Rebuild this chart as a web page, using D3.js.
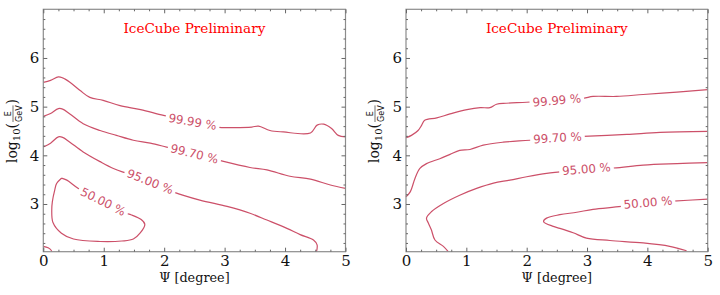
<!DOCTYPE html>
<html><head><meta charset="utf-8">
<script src="https://cdn.jsdelivr.net/npm/d3@7"></script>
<style>body{margin:0;background:#fff} svg{display:block}</style>
</head><body>
<svg id="c" width="720" height="295"></svg>
<script>
// ---------- data ----------
const xTicks = [0, 1, 2, 3, 4, 5];
const yTicks = [3, 4, 5, 6];
const xDomain = [0, 5];
const yDomain = [2.02, 7];
const levelLabels = ["50.00 %", "95.00 %", "99.70 %", "99.99 %"];
const watermark = "IceCube Preliminary";
const xLabel = "Ψ [degree]";

// left panel contours [psi, log10(E/GeV)]
const left50 = [[0.30,3.53],[0.22,3.42],[0.19,3.29],[0.15,3.05],[0.14,2.88],[0.16,2.62],[0.30,2.40],[0.50,2.28],[0.94,2.23],[1.30,2.24],[1.49,2.28],[1.60,2.40],[1.68,2.58],[1.62,2.68],[1.45,2.78],[1.38,2.81],[0.99,3.05],[0.58,3.32],[0.39,3.49],[0.30,3.53]];
const left95 = [[0,4.17],[0.12,4.25],[0.25,4.38],[0.32,4.37],[0.44,4.27],[0.66,4.07],[0.94,3.87],[1.16,3.73],[1.38,3.63],[1.77,3.46],[2.15,3.25],[2.59,3.08],[3.04,2.95],[3.42,2.81],[3.70,2.67],[4.03,2.50],[4.25,2.37],[4.47,2.26],[4.53,2.16],[4.52,2.02]];
const left9970 = [[0,4.80],[0.12,4.86],[0.25,4.96],[0.32,4.95],[0.44,4.85],[0.66,4.65],[0.94,4.51],[1.21,4.41],[1.49,4.31],[1.77,4.25],[2.04,4.17],[2.50,4.03],[2.90,3.90],[3.42,3.75],[3.70,3.70],[4.08,3.57],[4.42,3.51],[4.75,3.39],[5,3.32]];
const left9999 = [[0,5.50],[0.12,5.54],[0.25,5.61],[0.32,5.59],[0.44,5.50],[0.61,5.33],[0.77,5.19],[0.99,5.13],[1.27,5.02],[1.61,4.94],[1.99,4.82],[2.47,4.69],[2.87,4.58],[3.15,4.57],[3.45,4.58],[3.56,4.60],[3.75,4.51],[3.97,4.48],[4.42,4.46],[4.53,4.62],[4.64,4.64],[4.77,4.55],[4.88,4.41],[5,4.38]];
const leftCorner = [[0,2.13],[0.08,2.10],[0.13,2.05],[0.14,2.02]];
const leftLabelAt = [[0.99,3.05],[1.77,3.46],[2.50,4.03],[2.47,4.69]];

// right panel contours
const right50 = [[4.65,2.04],[4.37,2.13],[3.93,2.20],[3.38,2.25],[2.99,2.30],[2.77,2.41],[2.55,2.50],[2.44,2.54],[2.28,2.64],[2.33,2.71],[2.55,2.78],[2.83,2.83],[3.10,2.89],[3.57,2.95],[4.01,3.03],[4.43,3.06],[5,3.10]];
const right95 = [[0.70,2.02],[0.62,2.13],[0.48,2.26],[0.42,2.47],[0.37,2.61],[0.34,2.71],[0.42,2.84],[0.62,3.01],[0.89,3.18],[1.17,3.32],[1.45,3.43],[1.72,3.49],[2.00,3.56],[2.33,3.63],[2.55,3.66],[2.99,3.72],[3.44,3.74],[3.93,3.80],[4.49,3.83],[5,3.85]];
const right9970 = [[0,3.15],[0.07,3.25],[0.15,3.53],[0.23,3.73],[0.34,3.83],[0.56,3.93],[0.73,4.02],[0.89,4.10],[1.06,4.12],[1.28,4.21],[1.61,4.27],[2.05,4.31],[2.51,4.36],[2.94,4.39],[3.66,4.43],[4.21,4.47],[5,4.49]];
const right9999 = [[0,4.36],[0.09,4.41],[0.20,4.51],[0.26,4.62],[0.31,4.72],[0.51,4.77],[0.73,4.85],[1.01,4.94],[1.23,4.98],[1.39,4.98],[1.50,5.05],[1.66,5.07],[2.00,5.09],[2.50,5.13],[2.94,5.17],[3.10,5.21],[3.49,5.21],[3.93,5.25],[4.49,5.30],[5,5.35]];
const rightLabelAt = [[4.01,3.03],[2.99,3.72],[2.51,4.36],[2.50,5.13]];

// ---------- drawing ----------
const svg = d3.select("#c");
const lineColor = "#cc5069";
const serif = "'DejaVu Serif', serif";
const sans = "'DejaVu Sans', sans-serif";

const panels = [
  {x0: 43.3, x1: 345.5, contours: [left50, left95, left9970, left9999], extra: [leftCorner], labels: leftLabelAt, ylabX: 17},
  {x0: 406, x1: 707.7, contours: [right50, right95, right9970, right9999], extra: [], labels: rightLabelAt, ylabX: 379}
];
const yTop = 9.3, yBot = 251.7;

panels.forEach(p => {
  const x = d3.scaleLinear().domain(xDomain).range([p.x0, p.x1]);
  const y = d3.scaleLinear().domain(yDomain).range([yBot, yTop]);
  const g = svg.append("g");
  const line = d3.line().x(d => x(d[0])).y(d => y(d[1])).curve(d3.curveCatmullRom.alpha(0.5));

  const cg = g.append("g");
  p.contours.concat(p.extra).forEach(c => {
    cg.append("path").attr("d", line(c)).attr("fill", "none")
      .attr("stroke", lineColor).attr("stroke-width", 1.2);
  });

  // contour labels
  p.contours.forEach((c, i) => {
    const [lx, ly] = p.labels[i];
    const px = x(lx), py = y(ly);
    let best = 0, bd = Infinity;
    for (let k = 0; k < c.length - 1; k++) {
      const ax = x(c[k][0]), ay = y(c[k][1]), bx = x(c[k+1][0]), by = y(c[k+1][1]);
      const d = Math.hypot((ax + bx) / 2 - px, (ay + by) / 2 - py);
      if (d < bd) { bd = d; best = k; }
    }
    const k0 = Math.max(0, best - 1), k1 = Math.min(c.length - 1, best + 2);
    let ang = Math.atan2(y(c[k1][1]) - y(c[k0][1]), x(c[k1][0]) - x(c[k0][0])) * 180 / Math.PI;
    if (ang > 90) ang -= 180;
    if (ang < -90) ang += 180;
    const lg = g.append("g").attr("transform", `translate(${px},${py}) rotate(${ang})`);
    const rect = lg.append("rect").attr("fill", "#fff");
    const t = lg.append("text").text(levelLabels[i])
      .attr("font-family", sans).attr("font-size", 11.8)
      .attr("fill", lineColor).attr("text-anchor", "middle").attr("dy", "0.35em");
    const w = t.node().getComputedTextLength();
    rect.attr("x", -w / 2 - 3).attr("y", -4).attr("width", w + 6).attr("height", 8);
  });

  // frame
  g.append("rect").attr("x", p.x0).attr("y", yTop).attr("width", p.x1 - p.x0).attr("height", yBot - yTop)
    .attr("fill", "none").attr("stroke", "#8c8c8c").attr("stroke-width", 1.2);

  const xMinor = d3.range(0, 5.001, 0.25).filter(v => Math.abs(v - Math.round(v)) > 1e-6);
  const yMinor = d3.range(2.2, 7.0, 0.2).filter(v => Math.abs(v - Math.round(v)) > 1e-6);
  const styleAxis = sel => { sel.select(".domain").remove(); sel.selectAll("line").attr("stroke", "#666"); };

  g.append("g").attr("transform", `translate(0,${yBot})`)
    .call(d3.axisBottom(x).tickValues(xTicks).tickSize(-4).tickPadding(4).tickFormat(d3.format("d")))
    .call(styleAxis)
    .selectAll("text").attr("font-family", serif).attr("font-size", 15).attr("fill", "#111");
  g.append("g").attr("transform", `translate(0,${yBot})`)
    .call(d3.axisBottom(x).tickValues(xMinor).tickSize(-2).tickFormat("")).call(styleAxis);
  g.append("g").attr("transform", `translate(0,${yTop})`)
    .call(d3.axisTop(x).tickValues(xTicks).tickSize(-4).tickFormat("")).call(styleAxis);
  g.append("g").attr("transform", `translate(0,${yTop})`)
    .call(d3.axisTop(x).tickValues(xMinor).tickSize(-2).tickFormat("")).call(styleAxis);

  g.append("g").attr("transform", `translate(${p.x0},0)`)
    .call(d3.axisLeft(y).tickValues(yTicks).tickSize(-4).tickPadding(4).tickFormat(d3.format("d")))
    .call(styleAxis)
    .selectAll("text").attr("font-family", serif).attr("font-size", 15).attr("fill", "#111");
  g.append("g").attr("transform", `translate(${p.x0},0)`)
    .call(d3.axisLeft(y).tickValues(yMinor).tickSize(-2).tickFormat("")).call(styleAxis);
  g.append("g").attr("transform", `translate(${p.x1},0)`)
    .call(d3.axisRight(y).tickValues(yTicks).tickSize(-4).tickFormat("")).call(styleAxis);
  g.append("g").attr("transform", `translate(${p.x1},0)`)
    .call(d3.axisRight(y).tickValues(yMinor).tickSize(-2).tickFormat("")).call(styleAxis);

  const cx = (p.x0 + p.x1) / 2;
  g.append("text").attr("x", cx).attr("y", 32.5).attr("text-anchor", "middle")
    .attr("font-family", serif).attr("font-size", 13.6).attr("fill", "#ff0000").text(watermark);
  g.append("text").attr("x", cx).attr("y", 282).attr("text-anchor", "middle")
    .attr("font-family", serif).attr("font-size", 12.8).attr("fill", "#111").text(xLabel);

  // y label: log10(E/GeV)
  const yl = g.append("g").attr("transform", `translate(${p.ylabX},131) rotate(-90)`);
  const inner = yl.append("g");
  let cur = 0;
  const addT = (txt, size, dy) => {
    const t = inner.append("text").attr("x", cur).attr("y", dy).text(txt)
      .attr("font-family", serif).attr("font-size", size).attr("fill", "#111");
    cur += t.node().getComputedTextLength();
    return t;
  };
  addT("log", 14, 0);
  addT("10", 10, 3);
  addT("(", 14, 0);
  const fx = cur + 1;
  const n = inner.append("text").attr("y", -6).text("E").attr("font-family", sans).attr("font-size", 8).attr("fill", "#111").attr("text-anchor", "middle");
  const dd = inner.append("text").attr("y", 4.5).text("GeV").attr("font-family", sans).attr("font-size", 8).attr("fill", "#111").attr("text-anchor", "middle");
  const fw = Math.max(n.node().getComputedTextLength(), dd.node().getComputedTextLength());
  n.attr("x", fx + fw / 2); dd.attr("x", fx + fw / 2);
  inner.append("line").attr("x1", fx).attr("x2", fx + fw).attr("y1", -4).attr("y2", -4).attr("stroke", "#111").attr("stroke-width", 0.6);
  cur = fx + fw + 1;
  addT(")", 14, 0);
  inner.attr("transform", `translate(${-cur / 2},0)`);
});
</script>
</body></html>
